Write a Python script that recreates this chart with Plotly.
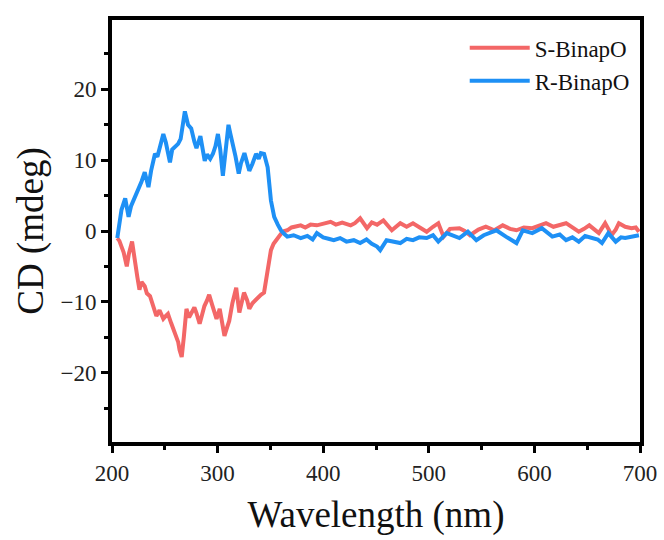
import plotly.graph_objects as go

# S-BinapO (red)
wl_s = [205, 207, 209, 211, 214, 216, 219, 222, 224, 226, 228, 231, 233, 236, 239, 242, 245, 248.6,
        251, 253, 256, 258, 260, 262.7, 264, 266, 268, 270.5, 273, 275, 278, 280, 283, 285, 287.5,
        290, 292, 295, 299, 302, 304, 306.5, 309, 311, 314, 317.6, 320.6, 323, 325, 328, 330, 333,
        336, 339, 341, 344, 347.4, 350.5, 353, 356.8, 360, 363, 366, 370, 374, 378.7, 383, 388, 394,
        400, 407, 412, 418, 426, 430, 435, 441.5, 446, 451, 457, 465, 473, 479, 485, 491, 498, 504,
        509, 514, 520, 529, 534, 539, 547, 554, 562, 570, 577, 583, 590, 598, 604, 611, 618, 624,
        630, 636, 642, 647, 652, 657, 661, 664, 667, 670, 673, 677, 680, 686, 692, 696, 699]
cd_s = [-1.0, -1.4, -2.2, -3.0, -5.0, -3.2, -1.5, -5.0, -6.5, -8.3, -7.2, -7.8, -8.8, -9.2, -10.5, -12.0,
        -11.2, -12.4, -12.0, -11.7, -13.0, -13.8, -14.6, -15.7, -16.8, -17.8, -15.0, -11.0, -12.2, -11.5,
        -10.8, -11.6, -13.1, -12.0, -10.6, -9.8, -9.0, -10.5, -12.4, -11.0, -12.8, -14.8, -13.6, -12.7,
        -10.2, -8.0, -11.5, -10.0, -8.7, -9.8, -11.0, -10.2, -9.7, -9.2, -9.0, -8.7, -5.9, -2.7, -1.8,
        -1.0, -0.4, 0.0, 0.1, 0.5, 0.6, 0.8, 0.5, 0.9, 0.8, 1.0, 1.3, 0.9, 1.2, 0.8, 1.1, 1.8, 0.4, 1.2,
        0.9, 1.5, 0.1, 1.1, 0.6, 1.1, 0.5, -0.1, 0.6, 1.1, -0.8, 0.3, 0.4, 0.0, -0.6, 0.2, 0.6, 0.1,
        0.8, 0.3, 0.1, 0.5, 0.4, 0.7, 1.1, 0.6, 0.9, 1.1, 0.5, -0.1, 0.3, 0.8, 0.2, -0.3, 0.4, 1.1, 0.3,
        -0.6, 0.2, 1.1, 0.6, 0.4, 0.5, -0.1]

# R-BinapO (blue)
wl_r = [205, 207, 209, 212.5, 214, 215.7, 218, 222, 225, 228, 231, 234.5, 237, 240.7, 243, 246, 248.6,
        251, 254.9, 257, 260, 262.6, 265, 269, 272, 275, 278, 280, 283.7, 285, 287.8, 290, 293, 295.6,
        298, 300.3, 302.5, 305, 307.5, 310.3, 312, 314.4, 317, 320, 322, 325.4, 328, 330, 333, 336.4,
        339, 341, 344, 347.4, 350.5, 353.6, 357, 360, 363, 366, 372, 378.7, 385, 390, 394, 400, 405,
        410, 416, 422, 429, 435, 441, 446, 451, 454, 460, 466, 473, 479, 485, 491, 498, 504, 509, 517,
        523, 529, 537, 545, 552, 558, 564, 573, 583, 589, 598, 607, 612, 617, 624, 630, 636, 642, 648,
        654, 660, 664, 670, 677, 682, 686, 692, 699]
cd_r = [-1.0, 1.0, 3.0, 4.6, 3.2, 2.0, 3.5, 4.8, 6.0, 7.0, 8.3, 6.2, 8.5, 10.9, 10.5, 12.0, 13.7, 12.5,
        9.7, 11.5, 12.0, 12.3, 13.0, 16.9, 15.0, 14.5, 12.6, 11.7, 13.4, 12.0, 9.9, 10.8, 10.2, 10.9,
        12.0, 13.7, 11.5, 7.8, 11.2, 15.0, 13.8, 12.3, 10.5, 8.1, 9.5, 11.0, 9.8, 8.5, 9.5, 10.9, 10.2,
        11.0, 10.9, 9.0, 4.3, 2.0, 0.9, 0.1, -0.4, -0.8, -0.6, -1.0, -0.7, -1.2, -0.3, -0.9, -1.1, -1.3,
        -1.0, -1.5, -1.3, -1.7, -1.2, -1.8, -2.2, -2.7, -1.3, -1.5, -1.7, -1.1, -1.3, -0.9, -1.0, -0.6,
        -1.5, -0.3, -0.7, -1.0, -0.1, -1.3, -0.6, -0.2, 0.1, -0.8, -1.7, 0.1, -0.3, 0.4, -0.2, -0.8,
        -0.5, -1.3, -0.9, -1.5, -0.7, -1.0, -1.2, -1.7, -0.3, -1.5, -0.9, -1.0, -0.8, -0.6]

series_names = ["S-BinapO", "R-BinapO"]
series_colors = ["#F36767", "#1E90F5"]

x_ticks = [200, 300, 400, 500, 600, 700]
y_ticks = [-20, -10, 0, 10, 20]

fig = go.Figure()
fig.add_trace(go.Scatter(x=wl_s, y=cd_s, mode="lines", name=series_names[0],
                         line=dict(color=series_colors[0], width=4)))
fig.add_trace(go.Scatter(x=wl_r, y=cd_r, mode="lines", name=series_names[1],
                         line=dict(color=series_colors[1], width=4)))

font_family = "Liberation Serif, Times New Roman, serif"
axis_common = dict(
    showline=True, linewidth=4, linecolor="black", mirror=True,
    ticks="outside", ticklen=7, tickwidth=3, tickcolor="black",
    showgrid=False, zeroline=False, automargin=False,
    tickfont=dict(family=font_family, size=23, color="#222"),
)

fig.update_xaxes(range=[200, 700], tickvals=x_ticks,
                 minor=dict(dtick=50, ticks="outside", ticklen=4, tickwidth=3, tickcolor="black", showgrid=False),
                 title=dict(text="Wavelength (nm)", font=dict(family=font_family, size=37, color="#111"),
                            standoff=18),
                 **axis_common)
fig.update_yaxes(range=[-29.8, 29.8], tickvals=y_ticks,
                 minor=dict(dtick=5, ticks="outside", ticklen=4, tickwidth=3, tickcolor="black", showgrid=False),
                 title=dict(text="CD (mdeg)", font=dict(family=font_family, size=37, color="#111"),
                            standoff=6),
                 **axis_common)

fig.update_layout(
    width=664, height=540,
    margin=dict(l=112, r=24, t=20, b=98),
    plot_bgcolor="white", paper_bgcolor="white",
    showlegend=True,
    legend=dict(x=0.99, y=0.985, xanchor="right", yanchor="top",
                font=dict(family=font_family, size=23, color="#111"),
                bgcolor="rgba(0,0,0,0)", itemwidth=60, tracegroupgap=0),
)

fig.write_html("out.html")
